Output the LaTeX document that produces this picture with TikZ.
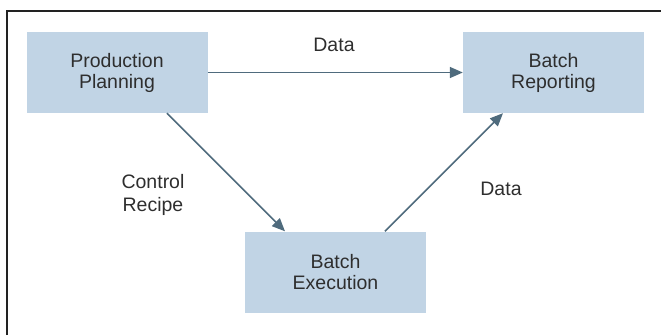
\documentclass[tikz,border=0pt]{standalone}
\usepackage{fontspec}
\setmainfont{Liberation Sans}
\usetikzlibrary{arrows.meta,calc}
\definecolor{boxfill}{HTML}{C1D4E5}
\definecolor{flowline}{HTML}{4F6B7D}
\definecolor{inktext}{HTML}{2E2E2E}
\definecolor{framegray}{HTML}{222222}
\begin{document}
\begin{tikzpicture}[x=1pt,y=-1pt,
  stage/.style={rectangle,fill=boxfill,draw=none,minimum width=181pt,minimum height=81pt,
    align=center,text=inktext,font=\fontsize{19.5}{21}\selectfont,inner sep=0pt},
  flow/.style={draw=flowline,line width=1.5pt,-{Triangle[length=13pt,width=11pt]}},
  tag/.style={align=center,text=inktext,font=\fontsize{19.5}{23}\selectfont,inner sep=0pt}]
  \useasboundingbox (0,0) rectangle (661,335);
  % open frame: left and top edges only
  \draw[framegray,line width=1.5pt] (7,335) -- (7,11) -- (661,11);
  % stages
  \node[stage] (pp) at (117,72.5) {Production\\Planning};
  \node[stage] (br) at (553.5,72.5) {Batch\\Reporting};
  \node[stage] (be) at (335.5,272) {Batch\\Execution};
  % flows
  \draw[flow] (pp.east) -- (br.west);
  \draw[flow] ($(pp.south)+(50,0)$) -- ($(be.north)+(-50.5,0)$);
  \draw[flow] ($(be.north)+(49.5,0)$) -- ($(br.south)+(-50.5,0)$);
  % labels
  \node[tag] (ldata) at (334,45) {Data};
  \node[tag] (lrecipe) at (153,195) {Control\\Recipe};
  \node[tag] (ldata2) at (501,189) {Data};
\end{tikzpicture}
\end{document}
